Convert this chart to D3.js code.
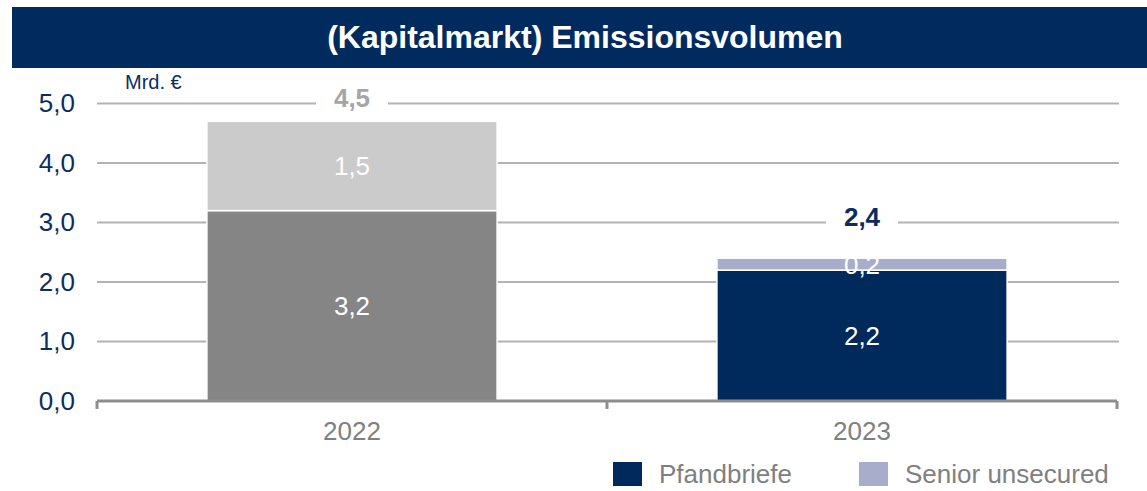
<!DOCTYPE html>
<html>
<head>
<meta charset="utf-8">
<script src="https://cdn.jsdelivr.net/npm/d3@7"></script>
<style>
  body { margin: 0; background: #fff; }
  svg { display: block; font-family: "Liberation Sans", Arial, sans-serif; }
</style>
</head>
<body>
<script>
// data
var categories = ["2022", "2023"];
var lowerValues = [3.2, 2.2];
var upperValues = [1.5, 0.2];
var totalLabels = ["4,5", "2,4"];
var yTicks = [0, 1, 2, 3, 4, 5];
var legendLabels = ["Pfandbriefe", "Senior unsecured"];

// colours per bar (2022 is greyed out)
var lowerColors = ["#858585", "#002a5c"];
var upperColors = ["#cbcbcb", "#a9adcc"];
var totalColors = ["#a6a6a6", "#0b2d5e"];
var legendColors = ["#002a5c", "#a9adcc"];

var width = 1147, height = 491;
var navy = "#0b2d5e";

var svg = d3.select("body").append("svg")
    .attr("width", width)
    .attr("height", height);

// title bar
svg.append("rect")
    .attr("x", 12).attr("y", 7)
    .attr("width", width - 12).attr("height", 61)
    .attr("fill", "#012a5e");
svg.append("text")
    .attr("x", 585).attr("y", 48)
    .attr("text-anchor", "middle")
    .attr("fill", "#fff")
    .attr("font-size", 32)
    .attr("font-weight", "bold")
    .text("(Kapitalmarkt) Emissionsvolumen");

// scales
var x = d3.scaleBand()
    .domain(categories)
    .range([97, 1117])
    .paddingInner(0.431)
    .paddingOuter(0.2155);

var y = d3.scaleLinear()
    .domain([0, 5])
    .range([401, 103.5]);

var de = d3.formatLocale({decimal: ",", thousands: ".", grouping: [3], currency: ["", " €"]});
var fmt = de.format(".1f");

// stacked rows
var rows = categories.map(function(c, i) {
  return {cat: c, lower: lowerValues[i], upper: upperValues[i], i: i};
});
var stack = d3.stack().keys(["lower", "upper"]);
var series = stack(rows);

// gridlines
svg.append("g").selectAll("line")
    .data(yTicks.filter(function(d) { return d > 0; }))
    .enter().append("line")
    .attr("x1", 97).attr("x2", 1119)
    .attr("y1", function(d) { return y(d); })
    .attr("y2", function(d) { return y(d); })
    .attr("stroke", "#b3b3b3")
    .attr("stroke-width", 2);

// y axis labels
var yAxis = d3.axisLeft(y).tickValues(yTicks).tickFormat(fmt).tickSize(0).tickPadding(0);
var gy = svg.append("g")
    .attr("transform", "translate(75,0)")
    .call(yAxis);
gy.select(".domain").remove();
gy.selectAll("text")
    .attr("fill", navy)
    .attr("font-size", 26)
    .attr("font-family", "'Liberation Sans', Arial, sans-serif");

// unit label
svg.append("text")
    .attr("x", 125).attr("y", 89)
    .attr("fill", navy)
    .attr("font-size", 20)
    .text("Mrd. €");

// bars
var layers = svg.selectAll("g.layer")
    .data(series)
    .enter().append("g")
    .attr("class", "layer");

layers.selectAll("rect")
    .data(function(s) { return s.map(function(d) { d.key = s.key; return d; }); })
    .enter().append("rect")
    .attr("x", function(d) { return x(d.data.cat); })
    .attr("width", x.bandwidth())
    .attr("y", function(d) { return y(d[1]); })
    .attr("height", function(d) { return y(d[0]) - y(d[1]); })
    .attr("fill", function(d) {
      return d.key === "lower" ? lowerColors[d.data.i] : upperColors[d.data.i];
    })
    .attr("stroke", "#fff")
    .attr("stroke-width", 1.5);

// segment labels
layers.selectAll("text")
    .data(function(s) { return s; })
    .enter().append("text")
    .attr("x", function(d) { return x(d.data.cat) + x.bandwidth() / 2; })
    .attr("y", function(d) { return (y(d[0]) + y(d[1])) / 2; })
    .attr("dy", "0.36em")
    .attr("text-anchor", "middle")
    .attr("fill", "#fff")
    .attr("font-size", 26)
    .text(function(d) { return fmt(d[1] - d[0]); });

// totals on the next gridline, with a white patch over the line
var totals = svg.append("g").selectAll("g")
    .data(rows)
    .enter().append("g")
    .attr("transform", function(d) {
      var t = Math.ceil(d.lower + d.upper - 1e-9);
      return "translate(" + (x(d.cat) + x.bandwidth() / 2) + "," + y(t) + ")";
    });
totals.append("rect")
    .attr("x", -36).attr("y", -8)
    .attr("width", 72).attr("height", 16)
    .attr("fill", "#fff");
totals.append("text")
    .attr("y", 3)
    .attr("text-anchor", "middle")
    .attr("font-size", 26)
    .attr("font-weight", "bold")
    .attr("fill", function(d) { return totalColors[d.i]; })
    .text(function(d) { return totalLabels[d.i]; });

// x axis line with ticks at band edges
var edges = [x.range()[0]].concat(categories.map(function(c) {
  return x(c) + x.bandwidth() + x.step() * x.paddingInner() / 2;
}));
edges[edges.length - 1] = x.range()[1];
svg.append("line")
    .attr("x1", x.range()[0]).attr("x2", x.range()[1])
    .attr("y1", y(0)).attr("y2", y(0))
    .attr("stroke", "#8e8e8e")
    .attr("stroke-width", 3);
svg.append("g").selectAll("line")
    .data(edges)
    .enter().append("line")
    .attr("x1", function(d) { return d; })
    .attr("x2", function(d) { return d; })
    .attr("y1", y(0)).attr("y2", y(0) + 8)
    .attr("stroke", "#8e8e8e")
    .attr("stroke-width", 3);

// category labels
svg.append("g").selectAll("text")
    .data(categories)
    .enter().append("text")
    .attr("x", function(d) { return x(d) + x.bandwidth() / 2; })
    .attr("y", 440)
    .attr("text-anchor", "middle")
    .attr("fill", "#808080")
    .attr("font-size", 26)
    .text(function(d) { return d; });

// legend
var legendX = [613, 859];
var legend = svg.append("g").selectAll("g")
    .data(legendLabels)
    .enter().append("g")
    .attr("transform", function(d, i) { return "translate(" + legendX[i] + ",462)"; });
legend.append("rect")
    .attr("width", 29).attr("height", 24)
    .attr("fill", function(d, i) { return legendColors[i]; });
legend.append("text")
    .attr("x", 46).attr("y", 21)
    .attr("fill", "#808080")
    .attr("font-size", 26)
    .text(function(d) { return d; });
</script>
</body>
</html>
